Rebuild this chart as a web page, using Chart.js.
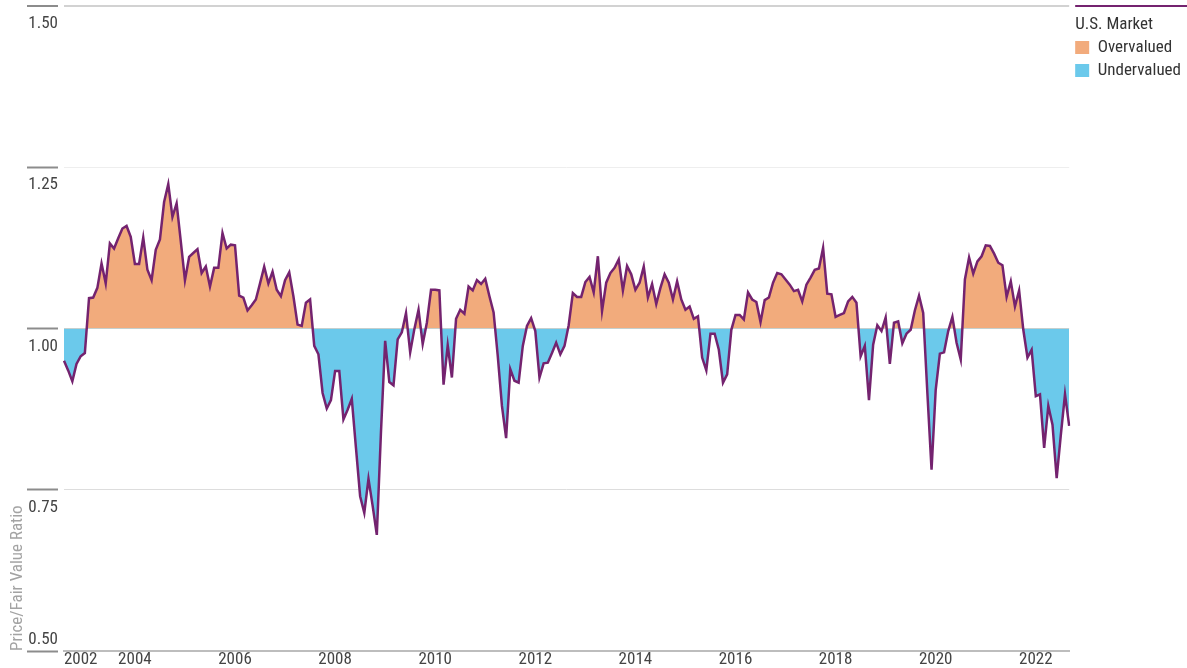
<!DOCTYPE html>
<html>
<head>
<meta charset="utf-8">
<title>U.S. Market Price/Fair Value</title>
<script src="https://cdn.jsdelivr.net/npm/chart.js@4.4.0/dist/chart.umd.min.js"></script>
<style>
  html, body { margin: 0; padding: 0; background: #fff; }
  #wrap { width: 1187px; height: 668px; }
</style>
</head>
<body>
<div id="wrap"><canvas id="pfvChart"></canvas></div>
<script>
// monthly price / fair value ratio, Aug 2002 .. Sep 2022
const pfvValues = [
  0.950, 0.935, 0.918, 0.945, 0.957,                                              // 2002 Aug-Dec
  0.962, 1.047, 1.048, 1.063, 1.101, 1.070, 1.132, 1.124, 1.140, 1.155, 1.159, 1.142, // 2003
  1.100, 1.100, 1.141, 1.091, 1.075, 1.122, 1.138, 1.196, 1.224, 1.173, 1.194, 1.135, // 2004
  1.075, 1.111, 1.117, 1.123, 1.086, 1.096, 1.065, 1.094, 1.094, 1.148, 1.124, 1.130, // 2005
  1.129, 1.051, 1.048, 1.028, 1.036, 1.045, 1.070, 1.096, 1.070, 1.088, 1.060, 1.050, // 2006
  1.075, 1.087, 1.050, 1.006, 1.004, 1.040, 1.045, 0.973, 0.960, 0.900, 0.876, 0.889, // 2007
  0.934, 0.934, 0.859, 0.874, 0.891, 0.815, 0.740, 0.714, 0.767, 0.725, 0.680, 0.840, // 2008
  0.981, 0.917, 0.912, 0.983, 0.994, 1.024, 0.963, 0.999, 1.029, 0.976, 1.009, 1.060, // 2009
  1.060, 1.059, 0.913, 0.974, 0.924, 1.015, 1.029, 1.023, 1.065, 1.059, 1.075, 1.069, // 2010
  1.077, 1.050, 1.025, 0.957, 0.880, 0.830, 0.937, 0.919, 0.916, 0.973, 1.004, 1.016, // 2011
  0.996, 0.924, 0.946, 0.947, 0.962, 0.978, 0.960, 0.973, 1.005, 1.055, 1.049, 1.049, // 2012
  1.072, 1.080, 1.056, 1.112, 1.027, 1.071, 1.086, 1.094, 1.107, 1.059, 1.097, 1.084, // 2013
  1.060, 1.071, 1.096, 1.048, 1.069, 1.038, 1.063, 1.084, 1.071, 1.045, 1.073, 1.045, // 2014
  1.029, 1.034, 1.015, 1.019, 0.955, 0.935, 0.992, 0.992, 0.967, 0.916, 0.929, 0.998, // 2015
  1.021, 1.021, 1.014, 1.056, 1.045, 1.041, 1.010, 1.044, 1.048, 1.071, 1.086, 1.084, // 2016
  1.076, 1.068, 1.058, 1.060, 1.042, 1.068, 1.079, 1.091, 1.093, 1.125, 1.054, 1.053, // 2017
  1.018, 1.021, 1.024, 1.042, 1.049, 1.040, 0.957, 0.973, 0.889, 0.975, 1.005, 0.996, // 2018
  1.017, 0.945, 1.009, 1.011, 0.977, 0.992, 0.998, 1.028, 1.051, 1.024, 0.900, 0.781, // 2019
  0.905, 0.961, 0.963, 0.996, 1.018, 0.978, 0.952, 1.076, 1.110, 1.085, 1.104, 1.112, // 2020
  1.129, 1.128, 1.116, 1.102, 1.098, 1.049, 1.073, 1.034, 1.059, 0.998, 0.955, 0.967, // 2021
  0.895, 0.898, 0.815, 0.880, 0.851, 0.768, 0.835, 0.898, 0.849                       // 2022 Jan-Sep
];

// month labels for the category axis
const months = [];
for (let k = 0; k < pfvValues.length; k++) {
  const m = 7 + k; // Aug 2002 is month 7 of 2002
  const yr = 2002 + Math.floor(m / 12);
  months.push(yr + '-' + String(m % 12 + 1).padStart(2, '0'));
}

// where the year labels sit (2002 is pushed in so it fits after the start)
const xTickMonths = ['2002-12', '2004-01', '2006-01', '2008-01', '2010-01', '2012-01',
                     '2014-01', '2016-01', '2018-01', '2020-01', '2022-01'];
const xTickLabels = ['2002', '2004', '2006', '2008', '2010', '2012',
                     '2014', '2016', '2018', '2020', '2022'];

const yMin = 0.5;
const yMax = 1.5;
const yStep = 0.25;
const fairValue = 1.0;

const legendTitle = 'U.S. Market';
const legendNames = ['Overvalued', 'Undervalued'];

const overColor = '#f2ab7c';
const underColor = '#6bc9eb';
const lineColor = '#74236f';
const textColor = '#333';

const fontStack = "'Liberation Sans Narrow', 'Roboto Condensed', 'DejaVu Sans Condensed', 'Arial Narrow', sans-serif";
Chart.defaults.font.family = fontStack;
Chart.defaults.font.size = 17;
Chart.defaults.color = '#444';

const legendPad = 6;
const titlePadTop = 10;

// purple rule above the legend, and the legend title lined up with the boxes
const legendRule = {
  id: 'legendRule',
  afterDraw(chart) {
    const lg = chart.legend;
    const ctx = chart.ctx;
    const x0 = lg.left + legendPad;
    ctx.save();
    ctx.strokeStyle = lineColor;
    ctx.lineWidth = 2;
    ctx.beginPath();
    ctx.moveTo(x0, chart.chartArea.top);
    ctx.lineTo(chart.width, chart.chartArea.top);
    ctx.stroke();
    ctx.fillStyle = textColor;
    ctx.font = '17px ' + fontStack;
    ctx.textAlign = 'left';
    ctx.textBaseline = 'middle';
    ctx.fillText(legendTitle, x0, lg.top + titlePadTop + 17 / 2);
    ctx.restore();
  }
};

const ctx = document.getElementById('pfvChart').getContext('2d');
const pfvChart = new Chart(ctx, {
  type: 'line',
  data: {
    labels: months,
    datasets: [{
      label: legendTitle,
      data: pfvValues,
      borderColor: lineColor,
      borderWidth: 2.5,
      pointRadius: 0,
      tension: 0,
      fill: { target: { value: fairValue }, above: overColor, below: underColor }
    }]
  },
  options: {
    responsive: true,
    maintainAspectRatio: false,
    animation: false,
    // negative right padding pulls the legend a bit closer to the edge
    layout: { padding: { top: 6, right: -4, bottom: 0, left: 4 } },
    plugins: {
      tooltip: { enabled: false },
      legend: {
        position: 'right',
        align: 'start',
        title: {
          // space is kept here, the text itself is drawn by legendRule
          display: true,
          text: legendTitle,
          position: 'start',
          color: 'rgba(0,0,0,0)',
          font: { size: 17, lineHeight: 1 },
          padding: { top: titlePadTop, bottom: 0 }
        },
        labels: {
          boxWidth: 14,
          boxHeight: 13,
          padding: legendPad,
          color: textColor,
          font: { size: 17 },
          generateLabels: () => legendNames.map((name, k) => ({
            text: name,
            fillStyle: k === 0 ? overColor : underColor,
            strokeStyle: k === 0 ? overColor : underColor,
            fontColor: textColor,
            lineWidth: 0,
            hidden: false,
            datasetIndex: 0
          }))
        }
      }
    },
    scales: {
      x: {
        type: 'category',
        grid: { display: false, drawTicks: false },
        border: { display: true, color: '#bdbdbd', width: 2 },
        ticks: {
          autoSkip: false,
          maxRotation: 0,
          minRotation: 0,
          padding: 0,
          color: '#444',
          font: { size: 17, lineHeight: 1 },
          callback: function(value, index) {
            const k = xTickMonths.indexOf(months[index]);
            return k >= 0 ? xTickLabels[k] : '';
          }
        }
      },
      y: {
        min: yMin,
        max: yMax,
        border: { display: false },
        grid: {
          color: c => {
            if (!c.tick) return '#dddddd';
            if (c.tick.value === yMax) return '#d2d2d2';
            if (c.tick.value === 1.25) return '#eeeeee';
            return '#dddddd';
          },
          lineWidth: c => (c.tick && c.tick.value === yMax ? 2 : 1),
          tickLength: 37,
          tickColor: '#8c8c8c',
          tickWidth: 2,
          tickBorderDash: [31, 40]
        },
        ticks: {
          stepSize: yStep,
          color: '#444',
          font: { size: 17, lineHeight: 1.137 },
          padding: -31,
          labelOffset: 8.3,
          // labels sit under their tick mark, except the bottom one which sits above
          callback: v => (v === yMin ? [v.toFixed(2), '', ''] : ['', v.toFixed(2)])
        },
        title: {
          display: true,
          text: 'Price/Fair Value Ratio',
          align: 'start',
          color: '#a3a3a3',
          font: { size: 17 },
          padding: { top: 4, bottom: 4 }
        },
        afterFit: s => {
          s.width = 60;
          s.paddingTop = 0;
          s.paddingBottom = 0;
        }
      }
    }
  },
  plugins: [legendRule]
});
</script>
</body>
</html>
